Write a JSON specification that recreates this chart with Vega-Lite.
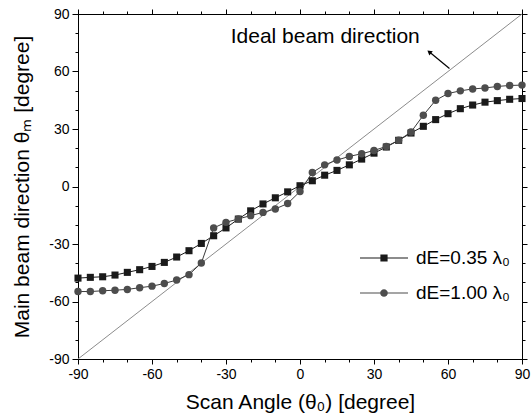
{
  "$schema": "https://vega.github.io/schema/vega-lite/v6.json",
  "width": 444,
  "height": 345,
  "autosize": "none",
  "padding": {"left": 78, "top": 14, "right": 9, "bottom": 60},
  "background": "white",
  "config": {
    "font": "Liberation Sans",
    "view": {"stroke": "black", "strokeWidth": 1},
    "axis": {"grid": false, "domainColor": "black", "tickColor": "black", "labelColor": "black", "titleColor": "black", "labelFont": "Liberation Sans", "titleFont": "Liberation Sans", "titleFontWeight": "normal"}
  },
  "datasets": {
    "curves": [
      {"angle": -90, "theta": -47.8, "series": "dE=0.35 λ₀"},
      {"angle": -85, "theta": -47.4, "series": "dE=0.35 λ₀"},
      {"angle": -80, "theta": -47.1, "series": "dE=0.35 λ₀"},
      {"angle": -75, "theta": -46.2, "series": "dE=0.35 λ₀"},
      {"angle": -70, "theta": -44.8, "series": "dE=0.35 λ₀"},
      {"angle": -65, "theta": -43.4, "series": "dE=0.35 λ₀"},
      {"angle": -60, "theta": -41.7, "series": "dE=0.35 λ₀"},
      {"angle": -55, "theta": -39.6, "series": "dE=0.35 λ₀"},
      {"angle": -50, "theta": -36.8, "series": "dE=0.35 λ₀"},
      {"angle": -45, "theta": -33.5, "series": "dE=0.35 λ₀"},
      {"angle": -40, "theta": -29.7, "series": "dE=0.35 λ₀"},
      {"angle": -35, "theta": -25.7, "series": "dE=0.35 λ₀"},
      {"angle": -30, "theta": -21.6, "series": "dE=0.35 λ₀"},
      {"angle": -25, "theta": -17.0, "series": "dE=0.35 λ₀"},
      {"angle": -20, "theta": -12.7, "series": "dE=0.35 λ₀"},
      {"angle": -15, "theta": -9.1, "series": "dE=0.35 λ₀"},
      {"angle": -10, "theta": -5.9, "series": "dE=0.35 λ₀"},
      {"angle": -5, "theta": -2.8, "series": "dE=0.35 λ₀"},
      {"angle": 0, "theta": 0.4, "series": "dE=0.35 λ₀"},
      {"angle": 5, "theta": 3.0, "series": "dE=0.35 λ₀"},
      {"angle": 10, "theta": 5.9, "series": "dE=0.35 λ₀"},
      {"angle": 15, "theta": 8.4, "series": "dE=0.35 λ₀"},
      {"angle": 20, "theta": 11.3, "series": "dE=0.35 λ₀"},
      {"angle": 25, "theta": 14.3, "series": "dE=0.35 λ₀"},
      {"angle": 30, "theta": 17.4, "series": "dE=0.35 λ₀"},
      {"angle": 35, "theta": 20.6, "series": "dE=0.35 λ₀"},
      {"angle": 40, "theta": 24.1, "series": "dE=0.35 λ₀"},
      {"angle": 45, "theta": 27.9, "series": "dE=0.35 λ₀"},
      {"angle": 50, "theta": 31.4, "series": "dE=0.35 λ₀"},
      {"angle": 55, "theta": 34.9, "series": "dE=0.35 λ₀"},
      {"angle": 60, "theta": 38.0, "series": "dE=0.35 λ₀"},
      {"angle": 65, "theta": 40.6, "series": "dE=0.35 λ₀"},
      {"angle": 70, "theta": 42.5, "series": "dE=0.35 λ₀"},
      {"angle": 75, "theta": 44.0, "series": "dE=0.35 λ₀"},
      {"angle": 80, "theta": 44.8, "series": "dE=0.35 λ₀"},
      {"angle": 85, "theta": 45.5, "series": "dE=0.35 λ₀"},
      {"angle": 90, "theta": 45.9, "series": "dE=0.35 λ₀"},
      {"angle": -90, "theta": -54.8, "series": "dE=1.00 λ₀"},
      {"angle": -85, "theta": -54.8, "series": "dE=1.00 λ₀"},
      {"angle": -80, "theta": -54.4, "series": "dE=1.00 λ₀"},
      {"angle": -75, "theta": -54.1, "series": "dE=1.00 λ₀"},
      {"angle": -70, "theta": -53.7, "series": "dE=1.00 λ₀"},
      {"angle": -65, "theta": -52.8, "series": "dE=1.00 λ₀"},
      {"angle": -60, "theta": -52.0, "series": "dE=1.00 λ₀"},
      {"angle": -55, "theta": -50.6, "series": "dE=1.00 λ₀"},
      {"angle": -50, "theta": -48.8, "series": "dE=1.00 λ₀"},
      {"angle": -45, "theta": -46.0, "series": "dE=1.00 λ₀"},
      {"angle": -40, "theta": -39.9, "series": "dE=1.00 λ₀"},
      {"angle": -35, "theta": -21.6, "series": "dE=1.00 λ₀"},
      {"angle": -30, "theta": -18.7, "series": "dE=1.00 λ₀"},
      {"angle": -25, "theta": -16.9, "series": "dE=1.00 λ₀"},
      {"angle": -20, "theta": -15.2, "series": "dE=1.00 λ₀"},
      {"angle": -15, "theta": -13.5, "series": "dE=1.00 λ₀"},
      {"angle": -10, "theta": -11.7, "series": "dE=1.00 λ₀"},
      {"angle": -5, "theta": -8.9, "series": "dE=1.00 λ₀"},
      {"angle": 0, "theta": -2.6, "series": "dE=1.00 λ₀"},
      {"angle": 5, "theta": 7.3, "series": "dE=1.00 λ₀"},
      {"angle": 10, "theta": 11.3, "series": "dE=1.00 λ₀"},
      {"angle": 15, "theta": 13.8, "series": "dE=1.00 λ₀"},
      {"angle": 20, "theta": 15.7, "series": "dE=1.00 λ₀"},
      {"angle": 25, "theta": 17.1, "series": "dE=1.00 λ₀"},
      {"angle": 30, "theta": 18.8, "series": "dE=1.00 λ₀"},
      {"angle": 35, "theta": 20.9, "series": "dE=1.00 λ₀"},
      {"angle": 40, "theta": 24.1, "series": "dE=1.00 λ₀"},
      {"angle": 45, "theta": 28.4, "series": "dE=1.00 λ₀"},
      {"angle": 50, "theta": 37.2, "series": "dE=1.00 λ₀"},
      {"angle": 55, "theta": 45.0, "series": "dE=1.00 λ₀"},
      {"angle": 60, "theta": 48.5, "series": "dE=1.00 λ₀"},
      {"angle": 65, "theta": 49.9, "series": "dE=1.00 λ₀"},
      {"angle": 70, "theta": 50.9, "series": "dE=1.00 λ₀"},
      {"angle": 75, "theta": 51.4, "series": "dE=1.00 λ₀"},
      {"angle": 80, "theta": 52.2, "series": "dE=1.00 λ₀"},
      {"angle": 85, "theta": 52.7, "series": "dE=1.00 λ₀"},
      {"angle": 90, "theta": 52.9, "series": "dE=1.00 λ₀"}
    ],
    "ideal": [
      {"angle": -90, "theta": -90},
      {"angle": 90, "theta": 90}
    ]
  },
  "resolve": {"axis": {"x": "independent", "y": "independent"}},
  "layer": [
    {
      "data": {"name": "ideal"},
      "mark": {"type": "line", "color": "#8c8c8c", "strokeWidth": 1},
      "encoding": {
        "x": {"field": "angle", "type": "quantitative", "scale": {"domain": [-90, 90], "nice": false, "zero": false},
          "axis": {"orient": "bottom", "values": [-90,-80,-70,-60,-50,-40,-30,-20,-10,0,10,20,30,40,50,60,70,80,90],
            "labelExpr": "datum.value % 30 === 0 ? '' + datum.value : ''",
            "tickSize": {"condition": {"test": "datum.value % 30 === 0", "value": 5}, "value": 3},
            "labelFontSize": 14, "labelPadding": 3, "labelFlush": false,
            "title": "Scan Angle (θ₀) [degree]", "titleFontSize": 21, "titlePadding": 10}},
        "y": {"field": "theta", "type": "quantitative", "scale": {"domain": [-90, 90], "nice": false, "zero": false},
          "axis": {"orient": "left", "values": [-90,-80,-70,-60,-50,-40,-30,-20,-10,0,10,20,30,40,50,60,70,80,90],
            "labelExpr": "datum.value % 30 === 0 ? '' + datum.value : ''",
            "tickSize": {"condition": {"test": "datum.value % 30 === 0", "value": 6}, "value": 3},
            "labelFontSize": 14, "labelPadding": 3, "labelFlush": false,
            "title": "Main beam direction θₘ [degree]", "titleFontSize": 21, "titlePadding": 16}}
      }
    },
    {
      "data": {"name": "ideal"},
      "mark": {"type": "line", "strokeOpacity": 0},
      "encoding": {
        "x": {"field": "angle", "type": "quantitative",
          "axis": {"orient": "top", "values": [-90,-80,-70,-60,-50,-40,-30,-20,-10,0,10,20,30,40,50,60,70,80,90],
            "labels": false, "title": null,
            "tickSize": {"condition": {"test": "datum.value % 30 === 0", "value": 5}, "value": 3}}},
        "y": {"field": "theta", "type": "quantitative",
          "axis": {"orient": "right", "values": [-90,-80,-70,-60,-50,-40,-30,-20,-10,0,10,20,30,40,50,60,70,80,90],
            "labels": false, "title": null,
            "tickSize": {"condition": {"test": "datum.value % 30 === 0", "value": 5}, "value": 3}}}
      }
    },
    {
      "data": {"name": "curves"},
      "transform": [{"filter": "datum.series === 'dE=0.35 λ₀'"}],
      "mark": {"type": "line", "color": "#1a1a1a", "strokeWidth": 1},
      "encoding": {
        "x": {"field": "angle", "type": "quantitative", "axis": null},
        "y": {"field": "theta", "type": "quantitative", "axis": null}
      }
    },
    {
      "data": {"name": "curves"},
      "transform": [{"filter": "datum.series === 'dE=1.00 λ₀'"}],
      "mark": {"type": "line", "color": "#3a3a3a", "strokeWidth": 1},
      "encoding": {
        "x": {"field": "angle", "type": "quantitative", "axis": null},
        "y": {"field": "theta", "type": "quantitative", "axis": null}
      }
    },
    {
      "data": {"name": "curves"},
      "transform": [{"filter": "datum.series === 'dE=0.35 λ₀'"}],
      "mark": {"type": "point", "shape": "square", "filled": true, "color": "#1a1a1a", "opacity": 1, "size": 50},
      "encoding": {
        "x": {"field": "angle", "type": "quantitative", "axis": null},
        "y": {"field": "theta", "type": "quantitative", "axis": null}
      }
    },
    {
      "data": {"name": "curves"},
      "transform": [{"filter": "datum.series === 'dE=1.00 λ₀'"}],
      "mark": {"type": "point", "shape": "circle", "filled": true, "color": "#4d4d4d", "opacity": 1, "size": 55},
      "encoding": {
        "x": {"field": "angle", "type": "quantitative", "axis": null},
        "y": {"field": "theta", "type": "quantitative", "axis": null}
      }
    },
    {
      "data": {"name": "curves"},
      "transform": [{"filter": "false"}],
      "mark": {"type": "point", "filled": true, "size": 2304, "opacity": 1},
      "encoding": {
        "x": {"field": "angle", "type": "quantitative", "axis": null},
        "y": {"field": "theta", "type": "quantitative", "axis": null},
        "shape": {"field": "series", "type": "nominal",
          "scale": {"domain": ["dE=0.35 λ₀", "dE=1.00 λ₀"],
            "range": ["M-1,-0.021H1V0.021H-1ZM-0.15,-0.15H0.15V0.15H-0.15Z", "M-1,-0.021H1V0.021H-1ZM0.16,0A0.16,0.16,0,1,1,-0.16,0A0.16,0.16,0,1,1,0.16,0Z"]},
          "legend": {"title": null, "orient": "none", "legendX": 281, "legendY": 219, "labelFontSize": 19, "labelColor": "black", "labelFont": "Liberation Sans", "labelOffset": 7, "rowPadding": -3, "symbolSize": 2304, "symbolOpacity": 1}},
        "color": {"field": "series", "type": "nominal",
          "scale": {"domain": ["dE=0.35 λ₀", "dE=1.00 λ₀"], "range": ["#1a1a1a", "#4d4d4d"]},
          "legend": {"title": null, "orient": "none", "legendX": 281, "legendY": 219, "labelFontSize": 19, "labelColor": "black", "labelFont": "Liberation Sans", "labelOffset": 7, "rowPadding": -3, "symbolSize": 2304, "symbolOpacity": 1}}
      }
    },
    {
      "data": {"values": [{}]},
      "mark": {"type": "rule", "color": "black", "strokeWidth": 1.2},
      "encoding": {
        "x": {"datum": 60.6, "type": "quantitative", "axis": null},
        "y": {"datum": 61.6, "type": "quantitative", "axis": null},
        "x2": {"datum": 52.6},
        "y2": {"datum": 70.0}
      }
    },
    {
      "data": {"values": [{}]},
      "mark": {"type": "point", "shape": "triangle-up", "filled": true, "color": "black", "size": 30, "angle": 309, "opacity": 1},
      "encoding": {
        "x": {"datum": 52.4, "type": "quantitative", "axis": null},
        "y": {"datum": 70.2, "type": "quantitative", "axis": null}
      }
    },
    {
      "data": {"values": [{}]},
      "mark": {"type": "text", "text": "Ideal beam direction", "fontSize": 21, "font": "Liberation Sans", "align": "left", "baseline": "middle", "color": "black"},
      "encoding": {
        "x": {"datum": -28.1, "type": "quantitative", "axis": null},
        "y": {"datum": 78.0, "type": "quantitative", "axis": null}
      }
    }
  ]
}
